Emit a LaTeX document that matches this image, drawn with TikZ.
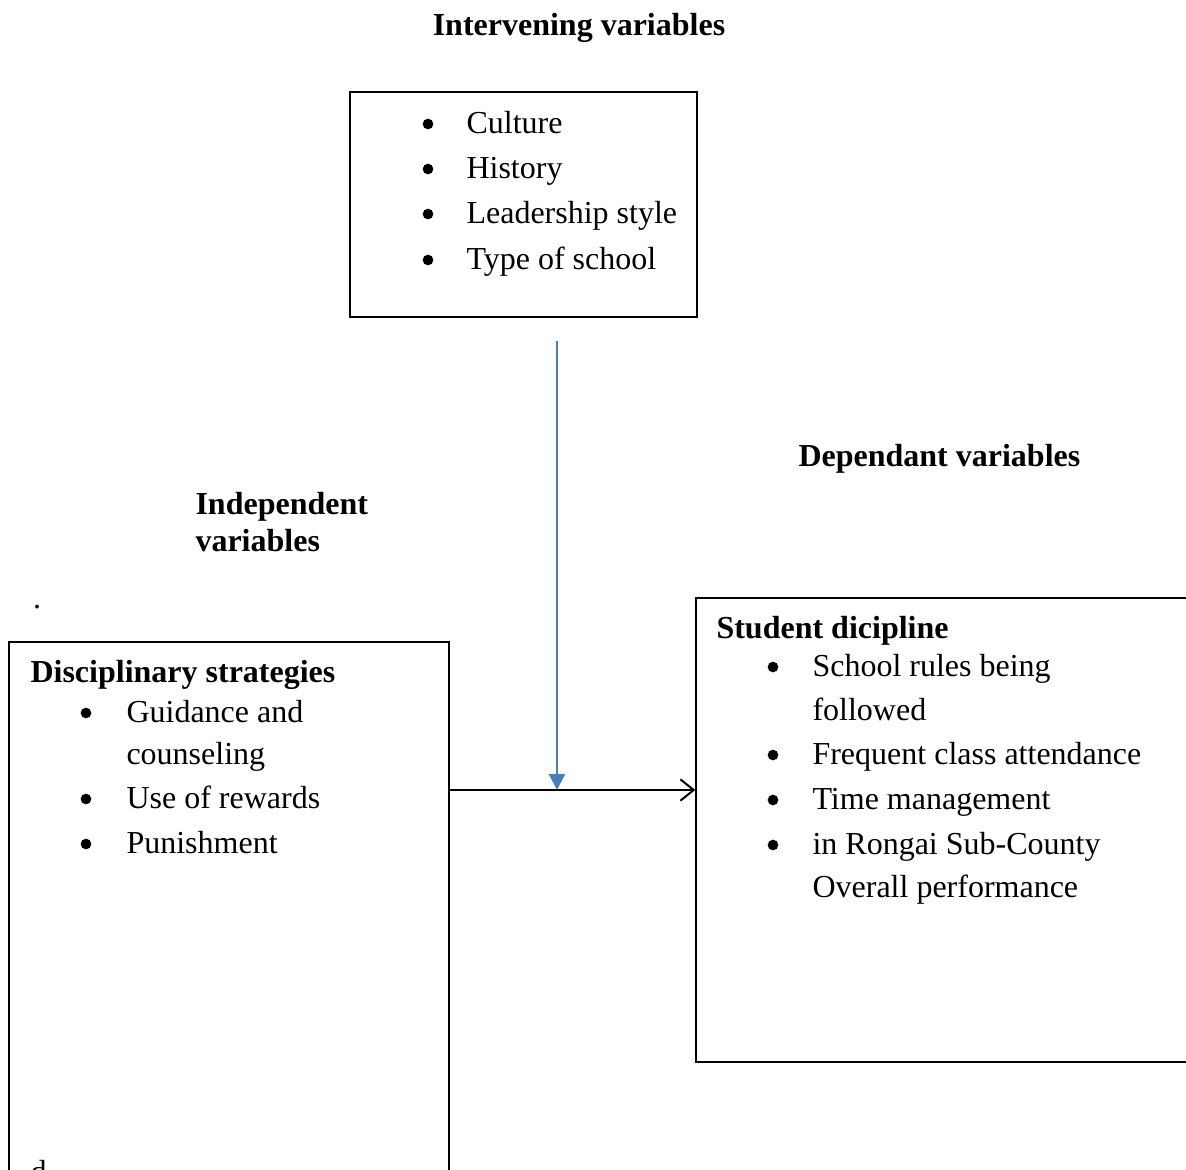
\documentclass[tikz,border=0pt]{standalone}
\usepackage{fontspec}
\setmainfont{Liberation Serif}
\usetikzlibrary{arrows.meta,fit}
\definecolor{ink}{HTML}{000000}
\definecolor{linkblue}{HTML}{4A7EBB}
\tikzset{
  frame/.style={draw=ink, line width=0.5pt, inner sep=0pt},
  heading/.style={font=\fontsize{12pt}{14pt}\selectfont\bfseries, inner sep=0pt, anchor=base west},
  item/.style={font=\fontsize{12pt}{14pt}\selectfont, inner sep=0pt, anchor=base west},
  dot/.style={circle, fill=ink, inner sep=0pt, minimum size=4pt},
  flow/.style={-{Straight Barb[length=5pt,width=8pt]}, line width=0.75pt, draw=ink},
  influence/.style={-{Triangle[length=6pt,width=6pt]}, line width=0.8pt, draw=linkblue, fill=linkblue}
}
\begin{document}
\begin{tikzpicture}[x=0.375pt,y=-0.375pt]
    \useasboundingbox (0,0) rectangle (1186,1169);
    \clip (0,0) rectangle (1186,1169);
    % boxes
    \node[frame, fit={(350,92) (697,317)}] (interv) {};
    \node[frame, fit={(9,642) (449,1240)}] (indep) {};
    \node[frame, fit={(696,598) (1240,1062)}] (dep) {};
    % titles
    \node[heading, anchor=base] (interv-title) at (579,35) {Intervening variables};
    \node[heading] (dep-title) at (798,466) {Dependant variables};
    \node[heading] (indep-title) at (195,514) {Independent};
    \node[heading] (indep-title2) at (195,551) {variables};
    \node[item, anchor=base] (stray) at (37,608) {.};
    % intervening list
    \foreach \yy/\txt [count=\i] in {133/Culture, 178/History, 223/Leadership style, 269/Type of school} {
      \node[dot] (interv-b\i) at (428,\yy-9) {};
      \node[item] (interv-\i) at (466,\yy) {\txt};
    }
    % independent list
    \node[heading] (indep-head) at (30,682) {Disciplinary strategies};
    \foreach \yy in {722,808,853} {
      \node[dot] (indep-b\yy) at (86,\yy-9) {};
    }
    \foreach \yy/\txt [count=\i] in {722/Guidance and, 764/counseling, 808/Use of rewards, 853/Punishment} {
      \node[item] (indep-\i) at (126,\yy) {\txt};
    }
    \node[item] (indep-end) at (30,1182) {d};
    % dependent list
    \node[heading] (dep-head) at (716,638) {Student dicipline};
    \foreach \yy in {676,764,809,854} {
      \node[dot] (dep-b\yy) at (773,\yy-9) {};
    }
    \foreach \yy/\txt [count=\i] in {676/School rules being, 720/followed, 764/Frequent class attendance, 809/Time management, 854/in Rongai Sub-County, 897/Overall performance} {
      \node[item] (dep-\i) at (812,\yy) {\txt};
    }
    % connectors
    \coordinate (meet) at (557,790);
    \coordinate (drop) at (557,341);
    \draw[flow] (indep.east |- meet) -- (dep.west |- meet);
    \draw[influence] (drop) -- (meet);
\end{tikzpicture}
\end{document}
